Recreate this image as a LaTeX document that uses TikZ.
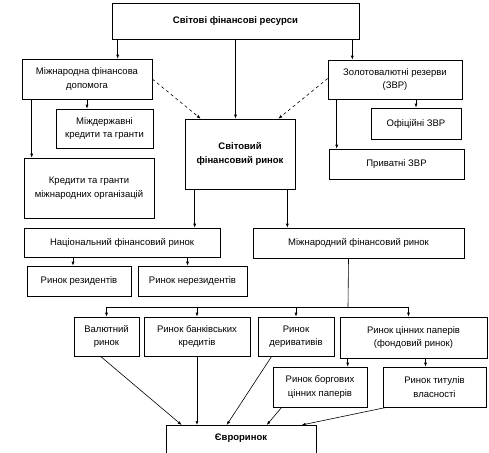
\documentclass[tikz,border=0pt]{standalone}
\usepackage{fontspec}
\setmainfont{Liberation Sans}
\usetikzlibrary{positioning, calc, arrows.meta}

\begin{document}
\begin{tikzpicture}[
  x=1pt, y=-1pt,
  >={Latex[length=4pt, width=3pt]}, semithick,
  box/.style  = {draw, rectangle, align=center, inner sep=1pt,
                 font=\fontsize{9.5}{13.5}\selectfont},
  bbox/.style = {box, font=\fontsize{9.5}{13.5}\selectfont\bfseries},
  link/.style = {->, dashed},
]
  \useasboundingbox (0,0) rectangle (489,452);
  \clip (0,0) rectangle (489,452);

  % ---- Resources and the world market ----
  \node[bbox, minimum width=247pt, minimum height=36pt] (res)  at (235.5,21)  {Світові фінансові ресурси};
  \node[box,  minimum width=130pt, minimum height=40pt] (aid)  at (87,79)     {Міжнародна фінансова\\допомога};
  \node[box,  minimum width=97pt,  minimum height=39pt] (gov)  at (104.5,128.5) {Міждержавні\\кредити та гранти};
  \node[box,  minimum width=130pt, minimum height=60pt] (org)  at (89,188)    {Кредити та гранти\\міжнародних організацій};
  \node[bbox, minimum width=110pt, minimum height=70pt] (wfm)  at (240,154)   {Світовий\\фінансовий ринок};
  \node[box,  minimum width=134pt, minimum height=39pt] (zvr)  at (395,79.5)  {Золотовалютні резерви\\(ЗВР)};
  \node[box,  minimum width=90pt,  minimum height=31pt] (ofz)  at (416,123.5) {Офіційні ЗВР};
  \node[box,  minimum width=135pt, minimum height=30pt] (prz)  at (396.5,164) {Приватні ЗВР};

  \draw[->] ([xshift=6pt]res.south west)  -- ([xshift=6pt]res.south west |- aid.north);
  \draw[->] (res.south)                   -- (res.south |- wfm.north);
  \draw[->] ([xshift=-7pt]res.south east) -- ([xshift=-7pt]res.south east |- zvr.north);

  \draw[->] (aid.south) -- (aid.south |- gov.north);
  \draw[->] ([xshift=10pt]aid.south west) -- ([xshift=10pt]aid.south west |- org.north);
  \draw[->] (zvr.south -| ofz.north) -- (ofz.north);
  \draw[->] ([xshift=9pt]zvr.south west) -- ([xshift=9pt]zvr.south west |- prz.north);

  \draw[link] (aid.east)         -- ([xshift=16pt]wfm.north west);
  \draw[link] ([yshift=1pt]zvr.west) -- ([xshift=-17pt]wfm.north east);

  % ---- National and international markets ----
  \node[box, minimum width=196pt, minimum height=29pt] (nat)  at (122,242.5)   {Національний фінансовий ринок};
  \node[box, minimum width=211pt, minimum height=30pt] (int)  at (358.5,243)   {Міжнародний фінансовий ринок};
  \node[box, minimum width=104pt, minimum height=30pt] (res1) at (79,281)      {Ринок резидентів};
  \node[box, minimum width=109pt, minimum height=30pt] (res2) at (192.5,281)   {Ринок нерезидентів};

  \draw[->] ([xshift=10pt]wfm.south west) -- ([xshift=10pt]wfm.south west |- nat.north);
  \draw[->] ([xshift=-8pt]wfm.south east) -- ([xshift=-8pt]wfm.south east |- int.north);
  \draw[->] ([xshift=-6pt]res1.north |- nat.south) -- ([xshift=-6pt]res1.north);
  \draw[->] ([xshift=-5pt]res2.north |- nat.south) -- ([xshift=-5pt]res2.north);

  % ---- Segments of the international market ----
  \node[box, minimum width=65pt,  minimum height=39pt] (cur)  at (106.5,336.5) {Валютний\\ринок};
  \node[box, minimum width=106pt, minimum height=39pt] (bank) at (197,336.5)   {Ринок банківських\\кредитів};
  \node[box, minimum width=76pt,  minimum height=39pt] (der)  at (296,336.5)   {Ринок\\деривативів};
  \node[box, minimum width=147pt, minimum height=41pt] (sec)  at (413.5,337.5) {Ринок цінних паперів\\(фондовий ринок)};
  \node[box, minimum width=94pt,  minimum height=40pt] (debt) at (320,387)     {Ринок боргових\\цінних паперів};
  \node[box, minimum width=103pt, minimum height=40pt] (own)  at (434.5,387)   {Ринок титулів\\власності};
  % text sits near the top, the box runs past the lower edge
  \node[bbox, minimum width=150pt, inner ysep=8pt, text height=7pt, text depth=30pt,
        anchor=north] (euro) at (241,425) {Євроринок};

  \coordinate (bus) at (348,307);
  \draw ([xshift=-10pt]int.south) -- (bus);
  \draw (cur.north |- bus) -- ([xshift=-5pt]sec.north |- bus);
  \foreach \n in {cur, bank, der}
    \draw[->] (\n.north |- bus) -- (\n.north);
  \draw[->] ([xshift=-5pt]sec.north |- bus) -- ([xshift=-5pt]sec.north);

  \draw[->] ([xshift=8pt]sec.south west) -- ([xshift=8pt]sec.south west |- debt.north);
  \draw[->] ([xshift=-9pt]own.north |- sec.south) -- ([xshift=-9pt]own.north);

  % ---- Everything flows into the euromarket ----
  \draw[->] ([xshift=-6pt]cur.south)     -- ([xshift=16pt]euro.north west);
  \draw[->] (bank.south)                 -- (bank.south |- euro.north);
  \draw[->] ([xshift=14pt]der.south west) -- ([xshift=61pt]euro.north west);
  \draw[->] ([xshift=9pt]debt.south west) -- ([xshift=101pt]euro.north west);
  \draw[->] ([xshift=4pt]own.south west)  -- ([xshift=136pt]euro.north west);
\end{tikzpicture}
\end{document}
